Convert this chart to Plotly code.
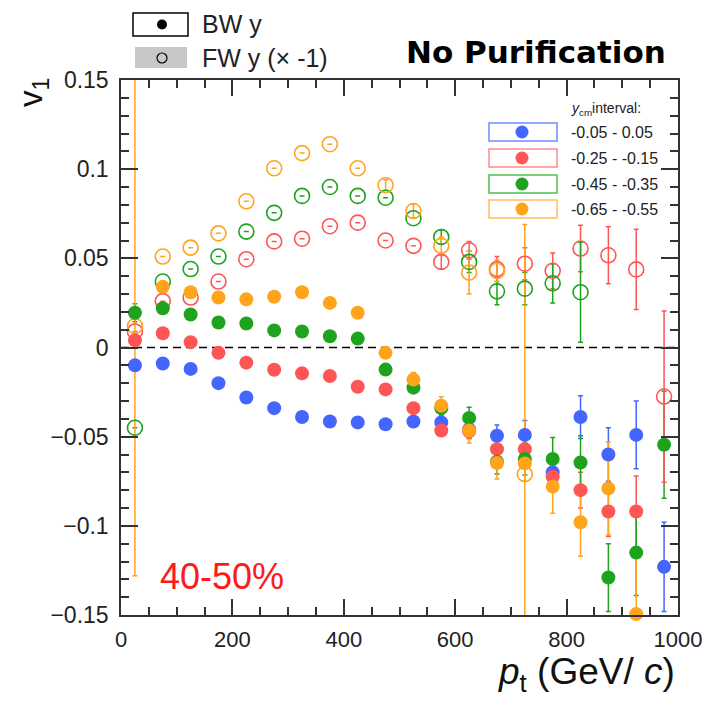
import plotly.graph_objects as go

# ---------------- data ----------------
pt = [25, 75, 125, 175, 225, 275, 325, 375, 425, 475,
      525, 575, 625, 675, 725, 775, 825, 875, 925, 975]

labels = ["-0.05 - 0.05", "-0.25 - -0.15", "-0.45 - -0.35", "-0.65 - -0.55"]

# backward rapidity (filled)
bw_blue = [-0.010, -0.009, -0.012, -0.020, -0.028, -0.034, -0.039, -0.0415, -0.042, -0.043,
           -0.0415, -0.042, -0.046, -0.0495, -0.049, -0.070, -0.039, -0.060, -0.049, -0.123]
bw_blue_err = [0, 0, 0, 0, 0, 0, 0, 0, 0, 0,
               0, 0.003, 0.005, 0.006, 0.008, 0.007, 0.012, 0.015, 0.019, 0.025]

bw_red = [0.004, 0.008, 0.003, -0.003, -0.0085, -0.0125, -0.0145, -0.016, -0.022, -0.0235,
          -0.034, -0.0465, -0.047, -0.057, -0.057, -0.0725, -0.080, -0.092, -0.092, None]
bw_red_err = [0, 0, 0, 0, 0, 0, 0, 0, 0, 0,
              0, 0.003, 0.004, 0.005, 0.006, 0.007, 0.010, 0.014, 0.020, 0]

bw_green = [0.0195, 0.022, 0.0185, 0.014, 0.0135, 0.0096, 0.009, 0.0063, 0.005, -0.0124,
            -0.0225, -0.034, -0.0395, -0.064, -0.0625, -0.0625, -0.0645, -0.129, -0.115, -0.0545]
bw_green_err = [0.005, 0, 0, 0, 0, 0, 0, 0, 0, 0,
                0.003, 0.004, 0.006, 0.007, 0.009, 0.012, 0.015, 0.019, 0.024, 0.030]

bw_orange = [None, 0.034, 0.031, 0.028, 0.027, 0.0285, 0.031, 0.025, 0.0195, -0.003,
             -0.018, -0.0326, -0.0466, -0.0648, -0.065, -0.078, -0.098, -0.079, -0.1495, None]
bw_orange_err = [0, 0, 0, 0, 0, 0, 0, 0, 0, 0,
                 0.004, 0.005, 0.007, 0.009, 0.010, 0.015, 0.019, 0.026, 0.032, 0]

# forward rapidity x (-1) (open)
fw_red = [0.009, 0.026, 0.028, 0.037, 0.0495, 0.0595, 0.061, 0.068, 0.070, 0.060,
          0.057, 0.048, 0.0545, 0.044, 0.047, 0.043, 0.0555, 0.0517, 0.0438, -0.0275]
fw_red_err = [0, 0, 0, 0, 0, 0, 0, 0, 0, 0,
              0, 0.004, 0.005, 0.007, 0.009, 0.010, 0.013, 0.016, 0.0225, 0.048]

fw_green = [-0.045, 0.037, 0.044, 0.051, 0.065, 0.0755, 0.085, 0.090, 0.085, 0.084,
            0.0725, 0.062, 0.048, 0.0315, 0.033, 0.036, 0.031, None, None, None]
fw_green_err = [0, 0, 0, 0, 0, 0, 0, 0, 0, 0,
                0, 0.004, 0.006, 0.0075, 0.009, 0.011, 0.028, 0, 0, 0]

fw_orange = [0.012, 0.051, 0.056, 0.064, 0.082, 0.1005, 0.109, 0.114, 0.1005, 0.091,
             0.0765, 0.057, 0.042, 0.043, -0.071, None, None, None, None, None]
fw_orange_err = [0.14, 0, 0, 0, 0, 0, 0, 0, 0, 0.003,
                 0.004, 0.005, 0.012, 0.006, 0.14, 0, 0, 0, 0, 0]

y_tickvals = [0.15, 0.1, 0.05, 0, -0.05, -0.1, -0.15]
y_ticktext = ["0.15", "0.1", "0.05", "0", "\u22120.05", "\u22120.1", "\u22120.15"]
x_tickvals = [0, 200, 400, 600, 800, 1000]

# ---------------- styling ----------------
C_BLUE = "#4466ff"
C_RED = "#ff5555"
C_GREEN = "#1fa31f"
C_ORANGE = "#ffa41c"
BOX_BLUE = "#6f8cff"
BOX_RED = "#ff8a8a"
BOX_GREEN = "#4fbf4f"
BOX_ORANGE = "#ffbf5a"

FONT = "Liberation Sans, Arial, Helvetica, sans-serif"

W, H = 708, 713
L, R, T, B = 121, 678, 80, 615


def px(x):
    return (x - L) / (R - L)


def py(y):
    return (B - y) / (B - T)


fig = go.Figure()

series_bw = [(bw_blue, bw_blue_err, C_BLUE), (bw_red, bw_red_err, C_RED),
             (bw_green, bw_green_err, C_GREEN), (bw_orange, bw_orange_err, C_ORANGE)]
series_fw = [(fw_red, fw_red_err, C_RED), (fw_green, fw_green_err, C_GREEN),
             (fw_orange, fw_orange_err, C_ORANGE)]

# error bars (clipped to the frame)
for vals, errs, col in series_bw + series_fw:
    fig.add_trace(go.Scatter(
        x=pt, y=vals, mode="markers",
        marker=dict(size=1, color="rgba(0,0,0,0)"),
        error_y=dict(type="data", array=errs, visible=True, color=col,
                     thickness=1.5, width=2.5),
        cliponaxis=True, showlegend=False, hoverinfo="skip"))

# open markers (FW)
for vals, errs, col in series_fw:
    fig.add_trace(go.Scatter(
        x=pt, y=vals, mode="markers",
        marker=dict(symbol="circle-open", size=15, color=col, line=dict(width=1.6, color=col)),
        cliponaxis=False, showlegend=False))

# filled markers (BW)
for vals, errs, col in series_bw:
    fig.add_trace(go.Scatter(
        x=pt, y=vals, mode="markers",
        marker=dict(symbol="circle", size=14, color=col, line=dict(width=0)),
        cliponaxis=False, showlegend=False))

shapes = []
annotations = []

# zero line
shapes.append(dict(type="line", xref="x", yref="y", x0=0, x1=1000, y0=0, y1=0,
                   line=dict(color="black", width=1.5, dash="8px,5px"), layer="below"))

# top-left legend
shapes.append(dict(type="rect", xref="paper", yref="paper",
                   x0=px(133), x1=px(188), y0=py(36), y1=py(13),
                   line=dict(color="black", width=1.5), fillcolor="white"))
shapes.append(dict(type="circle", xref="paper", yref="paper",
                   xsizemode="pixel", ysizemode="pixel",
                   xanchor=px(162), yanchor=py(24.5), x0=-5, x1=5, y0=-5, y1=5,
                   fillcolor="black", line=dict(width=0)))
shapes.append(dict(type="rect", xref="paper", yref="paper",
                   x0=px(135), x1=px(187), y0=py(68), y1=py(47),
                   line=dict(width=0), fillcolor="#c8c8c8"))
shapes.append(dict(type="circle", xref="paper", yref="paper",
                   xsizemode="pixel", ysizemode="pixel",
                   xanchor=px(162), yanchor=py(58), x0=-5, x1=5, y0=-5, y1=5,
                   fillcolor="rgba(0,0,0,0)", line=dict(width=1.2, color="black")))
annotations.append(dict(text="BW y", x=px(200), y=py(24), xref="paper", yref="paper",
                        xanchor="left", yanchor="middle", showarrow=False,
                        font=dict(family=FONT, size=25, color="#222")))
annotations.append(dict(text="FW y (\u00d7 -1)", x=px(200), y=py(58), xref="paper", yref="paper",
                        xanchor="left", yanchor="middle", showarrow=False,
                        font=dict(family=FONT, size=25, color="#222")))

# right legend
annotations.append(dict(text="<i>y</i><sub>cm</sub>interval:", x=px(569), y=py(109),
                        xref="paper", yref="paper", xanchor="left", yanchor="middle",
                        showarrow=False, font=dict(family=FONT, size=14, color="#222")))
box_cols = [BOX_BLUE, BOX_RED, BOX_GREEN, BOX_ORANGE]
dot_cols = [C_BLUE, C_RED, C_GREEN, C_ORANGE]
centers = [132, 158, 184, 209]
for lab, bc, dc, cy in zip(labels, box_cols, dot_cols, centers):
    shapes.append(dict(type="rect", xref="paper", yref="paper",
                       x0=px(489), x1=px(557), y0=py(cy + 9), y1=py(cy - 9),
                       line=dict(color=bc, width=1.5), fillcolor="white"))
    shapes.append(dict(type="circle", xref="paper", yref="paper",
                       xsizemode="pixel", ysizemode="pixel",
                       xanchor=px(522), yanchor=py(cy), x0=-6.5, x1=6.5, y0=-6.5, y1=6.5,
                       fillcolor=dc, line=dict(width=0)))
    annotations.append(dict(text=lab, x=px(569), y=py(cy), xref="paper", yref="paper",
                            xanchor="left", yanchor="middle", showarrow=False,
                            font=dict(family=FONT, size=16, color="#222")))

# title-like text
annotations.append(dict(text="<b>No Purification</b>", x=px(404), y=py(52),
                        xref="paper", yref="paper", xanchor="left", yanchor="middle",
                        showarrow=False,
                        font=dict(family="DejaVu Sans, sans-serif", size=31, color="black")))
annotations.append(dict(text="40-50%", x=px(158), y=py(576),
                        xref="paper", yref="paper", xanchor="left", yanchor="middle",
                        showarrow=False, font=dict(family=FONT, size=36, color="#ff1a1a")))

# axis titles
annotations.append(dict(text="v<sub>1</sub>", x=px(33), y=py(93),
                        xref="paper", yref="paper", xanchor="center", yanchor="middle",
                        textangle=-90, showarrow=False,
                        font=dict(family=FONT, size=33, color="#111")))
annotations.append(dict(text="<i>p</i><sub>t</sub> (GeV/ <i>c</i>)", x=px(677), y=py(674),
                        xref="paper", yref="paper", xanchor="right", yanchor="middle",
                        showarrow=False, font=dict(family=FONT, size=37, color="#111")))

axis_common = dict(
    showgrid=False, zeroline=False, showline=True, linecolor="#333", linewidth=1.5,
    ticks="inside", mirror="allticks", tickcolor="#333", tickwidth=1.5,
    automargin=False,
)

fig.update_xaxes(range=[0, 1000], tickvals=x_tickvals, ticklen=16,
                 tickfont=dict(family=FONT, size=22, color="#222"),
                 minor=dict(dtick=50, tick0=0, ticks="inside", ticklen=8,
                            tickcolor="#333", tickwidth=1.5, showgrid=False),
                 ticklabelstandoff=4, **axis_common)
fig.update_yaxes(range=[-0.15, 0.15], tickvals=y_tickvals, ticktext=y_ticktext, ticklen=17,
                 tickfont=dict(family=FONT, size=23, color="#222"),
                 minor=dict(dtick=0.01, tick0=0, ticks="inside", ticklen=8,
                            tickcolor="#333", tickwidth=1.5, showgrid=False),
                 ticklabelstandoff=6, **axis_common)

fig.update_layout(
    width=W, height=H,
    margin=dict(l=L, r=W - R, t=T, b=H - B, autoexpand=False),
    plot_bgcolor="white", paper_bgcolor="white",
    shapes=shapes, annotations=annotations, showlegend=False,
)

fig.write_html("out.html", config={"displayModeBar": False},
               post_script="document.body.style.margin='0px';")
